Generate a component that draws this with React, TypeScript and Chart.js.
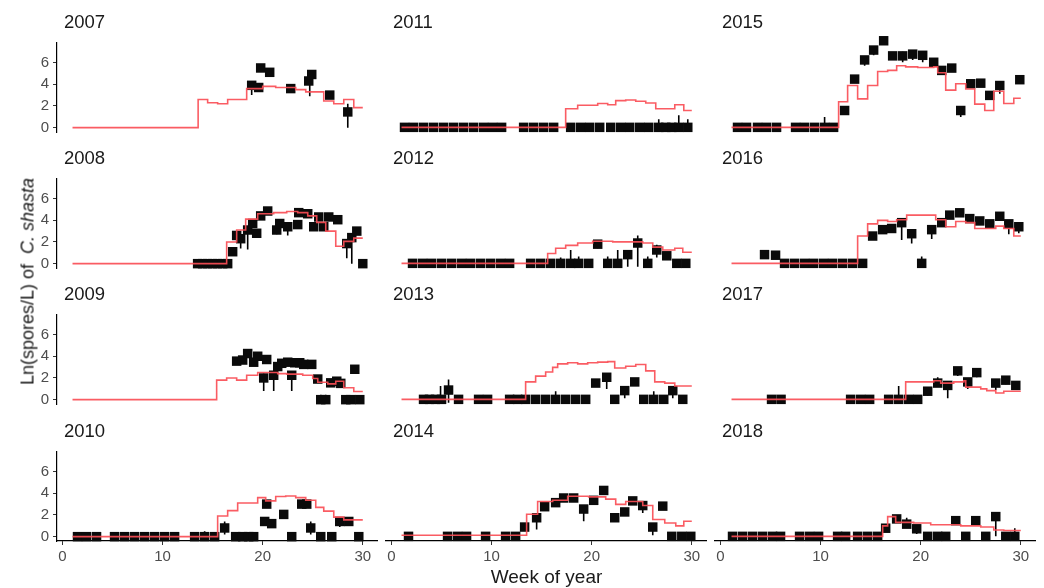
import React, { useEffect, useRef } from 'react';
import { Chart, registerables } from 'chart.js';

Chart.register(...registerables);

type Pt = [number, number];
type Bar = [number, number, number];

// ---- data: model step curves [week, value], observations [week, value], error bars [week, low, high]

const years = [2007, 2008, 2009, 2010, 2011, 2012, 2013, 2014, 2015, 2016, 2017, 2018];
const xTickValues = [0, 10, 20, 30];
const yTickValues = [0, 2, 4, 6];

const model2007: Pt[] = [[1, 0], [13.55, 2.6], [14.5, 2.3], [15.5, 2.2], [16.5, 2.6], [18.4, 3.6], [20, 3.8], [21.3, 3.7], [23.3, 3.5], [24.3, 3.3], [26.1, 2.45], [27.1, 2.2], [28.1, 2.6], [29.1, 1.85], [30, 1.85]];
const obs2007: Pt[] = [[18.9, 3.9], [19.6, 3.7], [19.8, 5.5], [20.7, 5.1], [22.8, 3.6], [24.6, 4.3], [24.9, 4.9], [26.7, 3.0], [28.5, 1.45]];
const err2007: Bar[] = [[18.9, 3.0, 4.3], [24.7, 2.9, 5.3], [28.5, 0, 2.2]];

const model2008: Pt[] = [[1, 0], [16.4, 2.0], [17.4, 3.1], [18.3, 4.1], [19.5, 4.6], [21.1, 4.7], [22.4, 4.8], [23.5, 4.7], [24.5, 4.4], [25.4, 3.8], [26.3, 3.0], [27.3, 1.6], [28.1, 2.05], [29.1, 2.35], [30, 2.35]];
const obs2008: Pt[] = [[13.5, 0], [14, 0], [14.5, 0], [15, 0], [15.5, 0], [16, 0], [16.5, 0], [17.0, 1.1], [17.4, 2.6], [17.8, 2.3], [18.5, 3.1], [19.0, 3.7], [19.4, 2.8], [19.8, 4.4], [20.5, 4.85], [21.4, 3.1], [21.7, 3.7], [22.5, 3.4], [23.5, 3.6], [23.6, 4.7], [24.5, 4.6], [25.1, 3.4], [25.6, 4.3], [26.1, 3.4], [26.6, 4.3], [27.5, 4.05], [28.4, 1.85], [28.9, 2.4], [29.4, 3.0], [30.0, 0]];
const err2008: Bar[] = [[17.8, 1.4, 2.7], [18.5, 1.3, 3.4], [21.4, 2.7, 3.6], [22.5, 2.6, 3.6], [28.4, 0.5, 2.1], [28.9, 0, 2.7]];

const model2009: Pt[] = [[1, 0], [15.4, 1.8], [16.4, 2.0], [17.4, 1.8], [18.4, 2.25], [19.5, 2.5], [21.5, 2.4], [22.4, 2.35], [24.0, 2.25], [25.0, 1.95], [25.5, 1.6], [26.5, 1.45], [27.3, 1.7], [28.1, 1.1], [29.1, 0.75], [30, 0.75]];
const obs2009: Pt[] = [[17.4, 3.55], [18.0, 3.65], [18.5, 4.25], [19.1, 3.45], [19.5, 4.0], [20.1, 2.0], [20.4, 3.7], [21.1, 2.25], [21.5, 3.05], [21.9, 3.35], [22.5, 3.45], [22.9, 2.25], [23.2, 3.4], [23.7, 3.4], [24.1, 3.25], [24.9, 3.25], [25.5, 1.9], [25.8, 0], [26.3, 0], [26.8, 1.55], [27.4, 1.7], [27.8, 1.5], [28.3, 0], [28.8, 0], [29.2, 2.8], [29.7, 0]];
const err2009: Bar[] = [[20.1, 0.8, 2.4], [21.1, 0.8, 2.5], [22.9, 0.8, 2.5], [25.8, 0, 0.45], [26.3, 0, 0.45]];

const model2010: Pt[] = [[1, 0], [15.5, 1.9], [16.5, 2.4], [17.5, 3.1], [19.5, 3.6], [20.3, 3.3], [21.3, 3.7], [22.3, 3.75], [23.3, 3.6], [24.3, 3.35], [25.3, 2.7], [26.1, 2.35], [27.1, 1.8], [28.1, 1.55], [30, 1.55]];
const obs2010: Pt[] = [[1.5, 0], [2.4, 0], [3.4, 0], [5.2, 0], [6.2, 0], [7.2, 0], [8.2, 0], [9.2, 0], [10.2, 0], [11.2, 0], [13.2, 0], [14.2, 0], [15.2, 0], [16.2, 0.8], [17.3, 0], [18.0, 0], [18.6, 0], [19.1, 0], [20.2, 1.4], [20.4, 3.0], [20.9, 1.2], [22.1, 2.05], [22.9, 0], [23.9, 3.0], [24.4, 3.0], [24.8, 0.8], [25.8, 0], [26.9, 0], [27.7, 1.4], [28.6, 1.4], [29.6, 0]];
const err2010: Bar[] = [[14.2, 0, 0.5], [16.2, 0.2, 1.4], [20.2, 1.0, 1.6], [22.1, 1.8, 2.3], [24.8, 0.2, 1.4], [27.7, 0.9, 1.8]];

const model2011: Pt[] = [[1, 0], [17.4, 1.6], [18.6, 1.9], [20.6, 2.05], [21.6, 1.95], [22.4, 2.3], [23.4, 2.35], [24.4, 2.25], [25.4, 2.1], [26.4, 1.6], [28.3, 1.95], [29.2, 1.45], [30, 1.45]];
const obs2011: Pt[] = [[1.3, 0], [2.2, 0], [3.2, 0], [4.2, 0], [5.2, 0], [6.2, 0], [7.2, 0], [8.2, 0], [9.2, 0], [10.1, 0], [11.0, 0], [13.2, 0], [14.2, 0], [15.2, 0], [16.2, 0], [17.9, 0], [18.9, 0], [19.8, 0], [20.8, 0], [21.9, 0], [22.9, 0], [23.8, 0], [24.8, 0], [25.7, 0], [26.7, 0], [27.4, 0], [28.0, 0], [28.7, 0], [29.6, 0]];
const err2011: Bar[] = [[26.7, 0, 0.7], [28.7, 0, 1.05], [29.6, 0, 0.7]];

const model2012: Pt[] = [[1, 0], [15.6, 0.85], [16.4, 1.3], [17.4, 1.55], [18.6, 1.75], [20.1, 1.9], [22.1, 1.85], [25.1, 1.75], [26.1, 1.4], [27.1, 1.15], [28.3, 1.3], [29.1, 0.95], [30, 0.95]];
const obs2012: Pt[] = [[2.1, 0], [3.1, 0], [4.0, 0], [5.0, 0], [6.0, 0], [7.0, 0], [7.9, 0], [8.9, 0], [9.9, 0], [10.9, 0], [11.8, 0], [13.9, 0], [14.9, 0], [15.9, 0], [16.9, 0], [17.9, 0], [18.7, 0], [19.7, 0], [20.6, 1.65], [21.6, 0], [22.6, 0], [23.6, 0.75], [24.6, 1.75], [25.6, 0], [26.5, 1.15], [27.5, 0.65], [28.5, 0], [29.4, 0]];
const err2012: Bar[] = [[16.9, 0, 0.5], [17.9, 0, 1.15], [18.7, 0, 0.6], [20.6, 1.3, 1.65], [21.6, 0, 0.6], [22.6, 0, 1.15], [23.6, -0.3, 0.75], [24.6, -0.3, 2.4], [25.6, 0, 0.6], [26.5, 0.5, 1.6], [27.5, 0.3, 0.8]];

const model2013: Pt[] = [[1, 0], [13.4, 1.5], [14.4, 2.0], [15.4, 2.35], [16.1, 2.75], [16.6, 3.05], [17.6, 3.15], [18.6, 3.05], [19.6, 3.15], [20.6, 3.2], [21.6, 3.25], [22.3, 2.7], [23.4, 2.85], [24.4, 3.0], [25.4, 2.45], [26.3, 1.5], [27.3, 1.4], [28.3, 1.15], [30, 1.15]];
const obs2013: Pt[] = [[3.2, 0], [3.8, 0], [4.4, 0], [5.0, 0], [5.7, 0.8], [6.7, 0], [8.7, 0], [9.6, 0], [11.8, 0], [12.6, 0], [13.4, 0], [14.4, 0], [15.4, 0], [16.4, 0], [17.4, 0], [18.4, 0], [19.4, 0], [20.4, 1.4], [21.5, 1.9], [22.3, 0], [23.3, 0.75], [24.3, 1.5], [25.2, 0], [26.2, 0], [27.2, 0], [28.1, 0.75], [29.1, 0]];
const err2013: Bar[] = [[4.9, 0, 1.15], [5.7, -0.3, 1.7], [16.4, 0, 0.7], [21.5, 0.9, 1.9], [23.3, 0.1, 0.75], [26.2, 0, 0.7], [28.1, 0.1, 0.75]];

const model2014: Pt[] = [[1, 0.1], [13.5, 1.9], [14.6, 3.0], [16.1, 3.1], [17.6, 3.45], [19.7, 3.4], [21.4, 3.2], [22.4, 2.75], [23.4, 3.0], [25.1, 2.65], [26.1, 1.45], [27.3, 1.15], [28.4, 0.9], [29.2, 1.3], [30, 1.3]];
const obs2014: Pt[] = [[1.7, 0], [5.6, 0], [6.6, 0], [7.5, 0], [9.4, 0], [11.4, 0], [12.4, 0], [13.3, 0.8], [14.5, 1.6], [15.3, 2.55], [16.4, 2.9], [17.2, 3.3], [18.2, 3.3], [19.2, 2.35], [20.2, 3.1], [21.2, 3.95], [22.3, 1.6], [23.3, 2.1], [24.1, 3.05], [25.1, 2.65], [26.1, 0.8], [27.1, 2.6], [28.0, 0], [29.0, 0], [29.9, 0]];
const err2014: Bar[] = [[14.5, 0.6, 1.8], [19.2, 1.3, 2.5], [22.3, 1.3, 1.7], [25.1, 2.0, 3.0], [26.1, 0.1, 1.0]];

const model2015: Pt[] = [[1.1, 0], [11.8, 2.2], [12.7, 3.6], [13.7, 2.45], [14.7, 3.6], [15.7, 4.8], [16.7, 4.9], [17.6, 5.3], [18.5, 5.2], [19.7, 5.15], [21.3, 5.2], [21.7, 4.7], [22.5, 3.2], [23.5, 3.75], [24.5, 3.3], [25.4, 2.0], [26.4, 1.45], [27.3, 3.1], [28.3, 2.05], [29.3, 2.5], [30, 2.5]];
const obs2015: Pt[] = [[1.7, 0], [2.6, 0], [3.7, 0], [4.6, 0], [5.6, 0], [7.5, 0], [8.4, 0], [9.4, 0], [10.4, 0], [11.3, 0], [12.4, 1.45], [13.4, 4.15], [14.4, 5.8], [15.3, 6.65], [16.3, 7.45], [17.2, 6.15], [18.2, 6.15], [19.2, 6.3], [20.2, 6.2], [21.3, 5.6], [22.1, 4.9], [23.1, 5.1], [24.0, 1.45], [25.0, 3.75], [26.0, 3.8], [26.9, 2.75], [27.9, 3.6], [29.9, 4.1]];
const err2015: Bar[] = [[10.4, 0, 0.9], [14.4, 5.3, 5.9], [15.3, 6.2, 6.7], [18.2, 5.6, 6.5], [19.2, 5.8, 6.6], [20.2, 5.6, 6.3], [24.0, 0.9, 1.5], [27.9, 2.9, 3.7]];

const model2016: Pt[] = [[1.1, 0], [13.7, 2.35], [14.7, 3.4], [15.7, 3.7], [16.7, 3.6], [17.6, 3.75], [18.6, 4.15], [21.5, 3.75], [22.5, 3.15], [23.5, 3.6], [24.5, 3.5], [25.4, 3.0], [27.5, 3.2], [28.3, 3.0], [29.3, 2.35], [30, 2.35]];
const obs2016: Pt[] = [[4.4, 0.75], [5.5, 0.7], [6.4, 0], [7.4, 0], [8.4, 0], [9.3, 0], [10.3, 0], [11.2, 0], [12.2, 0], [13.2, 0], [14.2, 0], [15.2, 2.35], [16.2, 2.9], [17.1, 3.0], [18.1, 3.5], [19.1, 2.55], [20.1, 0], [21.1, 2.9], [22.1, 3.5], [22.9, 4.15], [23.9, 4.35], [24.9, 3.85], [25.9, 3.65], [26.9, 3.4], [27.9, 4.05], [28.8, 3.4], [29.8, 3.15]];
const err2016: Bar[] = [[5.5, 0.4, 0.7], [18.1, 2.0, 3.8], [19.1, 1.7, 2.6], [20.1, 0, 0.6], [21.1, 2.1, 2.9], [23.9, 4.0, 4.5], [28.8, 2.5, 3.5], [29.8, 2.6, 3.3]];

const model2017: Pt[] = [[1.1, 0], [18.5, 1.5], [21.3, 1.6], [22.0, 1.4], [23.3, 1.5], [24.3, 1.6], [24.5, 1.05], [26.0, 0.9], [26.6, 0.75], [27.5, 0.55], [28.3, 0.7], [30, 0.7]];
const obs2017: Pt[] = [[5.1, 0], [6.05, 0], [13.0, 0], [14.0, 0], [14.9, 0], [16.8, 0], [17.8, 0], [18.8, 0], [19.7, 0], [20.7, 0.7], [21.7, 1.4], [22.7, 1.2], [23.7, 2.45], [24.7, 1.5], [25.6, 2.3], [27.5, 1.4], [28.5, 1.65], [29.5, 1.2]];
const err2017: Bar[] = [[17.8, 0, 1.15], [20.7, 0.3, 0.8], [21.7, 1.1, 1.9], [22.7, 0.1, 1.4], [23.7, 2.0, 2.5], [24.7, 0.9, 1.6], [25.6, 1.9, 2.3], [27.5, 0.8, 1.5], [28.5, 1.3, 1.9]];

const model2018: Pt[] = [[1.1, 0], [16.2, 0.9], [16.7, 1.7], [17.5, 1.2], [19.3, 1.15], [21.0, 1.0], [24.0, 0.9], [26.0, 0.8], [27.3, 0.55], [28.3, 0.5], [30, 0.5]];
const obs2018: Pt[] = [[1.2, 0], [2.2, 0], [3.2, 0], [4.2, 0], [5.2, 0], [6.0, 0], [7.9, 0], [8.9, 0], [9.8, 0], [11.7, 0], [12.5, 0], [13.7, 0], [14.7, 0], [15.7, 0], [16.5, 0.7], [17.6, 1.5], [18.6, 1.05], [19.6, 0.65], [20.7, 0], [21.7, 0], [22.5, 0], [23.5, 1.35], [24.5, 0], [25.5, 1.35], [26.5, 0], [27.5, 1.7], [28.5, 0], [29.4, 0]];
const err2018: Bar[] = [[18.6, 0.9, 1.6], [19.6, 0.2, 0.8], [27.5, 0, 2.1], [29.4, 0, 0.7]];

const models = [model2007, model2008, model2009, model2010, model2011, model2012, model2013, model2014, model2015, model2016, model2017, model2018];
const observations = [obs2007, obs2008, obs2009, obs2010, obs2011, obs2012, obs2013, obs2014, obs2015, obs2016, obs2017, obs2018];
const errorBarSets = [err2007, err2008, err2009, err2010, err2011, err2012, err2013, err2014, err2015, err2016, err2017, err2018];

// ---- layout of the 4 x 3 facet grid (panels filled column by column)

const FONT = '"Liberation Sans", Arial, Helvetica, sans-serif';
const X_MIN = -0.55;
const X_MAX = 31.45;
const Y_MIN = -0.4;
const Y_MAX = 7.8;
const PANEL_W = 321;
const PANEL_H = 96;
const COL_LEFT = [57, 386, 715];
const ROW_TOP = [36, 172, 308, 445];
const PAD_L = 50;
const PAD_T = 6;
const PAD_R = 6;
const PAD_B = 40;
const RED = 'rgba(250, 78, 86, 0.92)';

function makeErrorBarPlugin(bars: Bar[]) {
  return {
    id: 'errorBars',
    beforeDatasetsDraw(chart: any) {
      const { ctx, scales } = chart;
      const xs = scales.x;
      const ys = scales.y;
      ctx.save();
      ctx.strokeStyle = '#000';
      ctx.lineWidth = 1.6;
      ctx.beginPath();
      bars.forEach(([wk, lo, hi]) => {
        const px = xs.getPixelForValue(wk);
        ctx.moveTo(px, ys.getPixelForValue(lo));
        ctx.lineTo(px, ys.getPixelForValue(hi));
      });
      ctx.stroke();
      ctx.restore();
    },
  };
}

function Panel({ idx }: { idx: number }) {
  const ref = useRef<HTMLCanvasElement | null>(null);
  const col = Math.floor(idx / 4);
  const row = idx % 4;
  const isLeft = col === 0;
  const isBottom = row === 3;
  const canvasW = PANEL_W + PAD_L + PAD_R;
  const canvasH = PANEL_H + PAD_T + PAD_B;

  useEffect(() => {
    if (!ref.current) return;
    const tickFont = { family: FONT, size: 15 };
    const chart = new Chart(ref.current, {
      type: 'scatter',
      data: {
        datasets: [
          {
            type: 'line',
            data: models[idx].map(([x, y]) => ({ x, y })),
            borderColor: RED,
            borderWidth: 1.6,
            stepped: 'before',
            pointRadius: 0,
            fill: false,
            order: 0,
            clip: false,
          } as any,
          {
            type: 'scatter',
            data: observations[idx].map(([x, y]) => ({ x, y })),
            pointStyle: 'rect',
            pointRadius: 6.7,
            backgroundColor: '#0a0a0a',
            borderWidth: 0,
            order: 1,
            clip: false,
          } as any,
        ],
      },
      options: {
        animation: false,
        responsive: false,
        events: [],
        layout: { padding: { left: 0, top: PAD_T, right: PAD_R, bottom: 0 } },
        plugins: { legend: { display: false }, tooltip: { enabled: false } },
        scales: {
          x: {
            type: 'linear',
            min: X_MIN,
            max: X_MAX,
            afterBuildTicks: (s: any) => {
              s.ticks = xTickValues.map((v) => ({ value: v }));
            },
            afterFit: (s: any) => {
              s.height = PAD_B;
            },
            grid: { display: isBottom, drawOnChartArea: false, drawTicks: true, tickLength: 4, color: '#333', lineWidth: 1 },
            border: { display: isBottom, color: '#000', width: 1.2 },
            ticks: { display: isBottom, color: '#4d4d4d', font: tickFont, padding: 3, maxRotation: 0, autoSkip: false },
          },
          y: {
            type: 'linear',
            min: Y_MIN,
            max: Y_MAX,
            afterBuildTicks: (s: any) => {
              s.ticks = yTickValues.map((v) => ({ value: v }));
            },
            afterFit: (s: any) => {
              s.width = PAD_L;
            },
            grid: { display: isLeft, drawOnChartArea: false, drawTicks: true, tickLength: 4, color: '#333', lineWidth: 1 },
            border: { display: isLeft, color: '#000', width: 1.2 },
            ticks: { display: isLeft, color: '#4d4d4d', font: tickFont, padding: 4, autoSkip: false },
          },
        },
      } as any,
      plugins: [makeErrorBarPlugin(errorBarSets[idx])],
    });
    return () => chart.destroy();
  }, [idx]);

  const left = COL_LEFT[col];
  const top = ROW_TOP[row];
  return (
    <>
      <canvas
        ref={ref}
        width={canvasW}
        height={canvasH}
        style={{ position: 'absolute', left: left - PAD_L, top: top - PAD_T, width: canvasW, height: canvasH }}
      />
      <div
        style={{
          position: 'absolute',
          left: left + 7,
          top: top - 23.5,
          fontSize: 18.5,
          lineHeight: 1,
          color: '#1a1a1a',
          whiteSpace: 'nowrap',
        }}
      >
        {years[idx]}
      </div>
    </>
  );
}

export default function App() {
  return (
    <div
      style={{
        position: 'absolute',
        left: 0,
        top: 0,
        width: 1044,
        height: 588,
        background: '#fff',
        fontFamily: FONT,
        overflow: 'hidden',
      }}
    >
      {years.map((_, i) => (
        <Panel key={i} idx={i} />
      ))}
      <div
        style={{
          position: 'absolute',
          left: 57,
          width: 979,
          top: 567,
          fontSize: 19,
          lineHeight: 1,
          textAlign: 'center',
          color: '#1a1a1a',
        }}
      >
        Week of year
      </div>
      <div
        style={{
          position: 'absolute',
          left: 28 - 160,
          top: 281 - 9.5,
          width: 320,
          height: 19,
          fontSize: 18,
          lineHeight: '19px',
          textAlign: 'center',
          color: '#1a1a1a',
          whiteSpace: 'nowrap',
          transform: 'rotate(-90deg)',
        }}
      >
        Ln(spores/L) of{'\u00a0\u00a0'}
        <i>C. shasta</i>
      </div>
    </div>
  );
}
